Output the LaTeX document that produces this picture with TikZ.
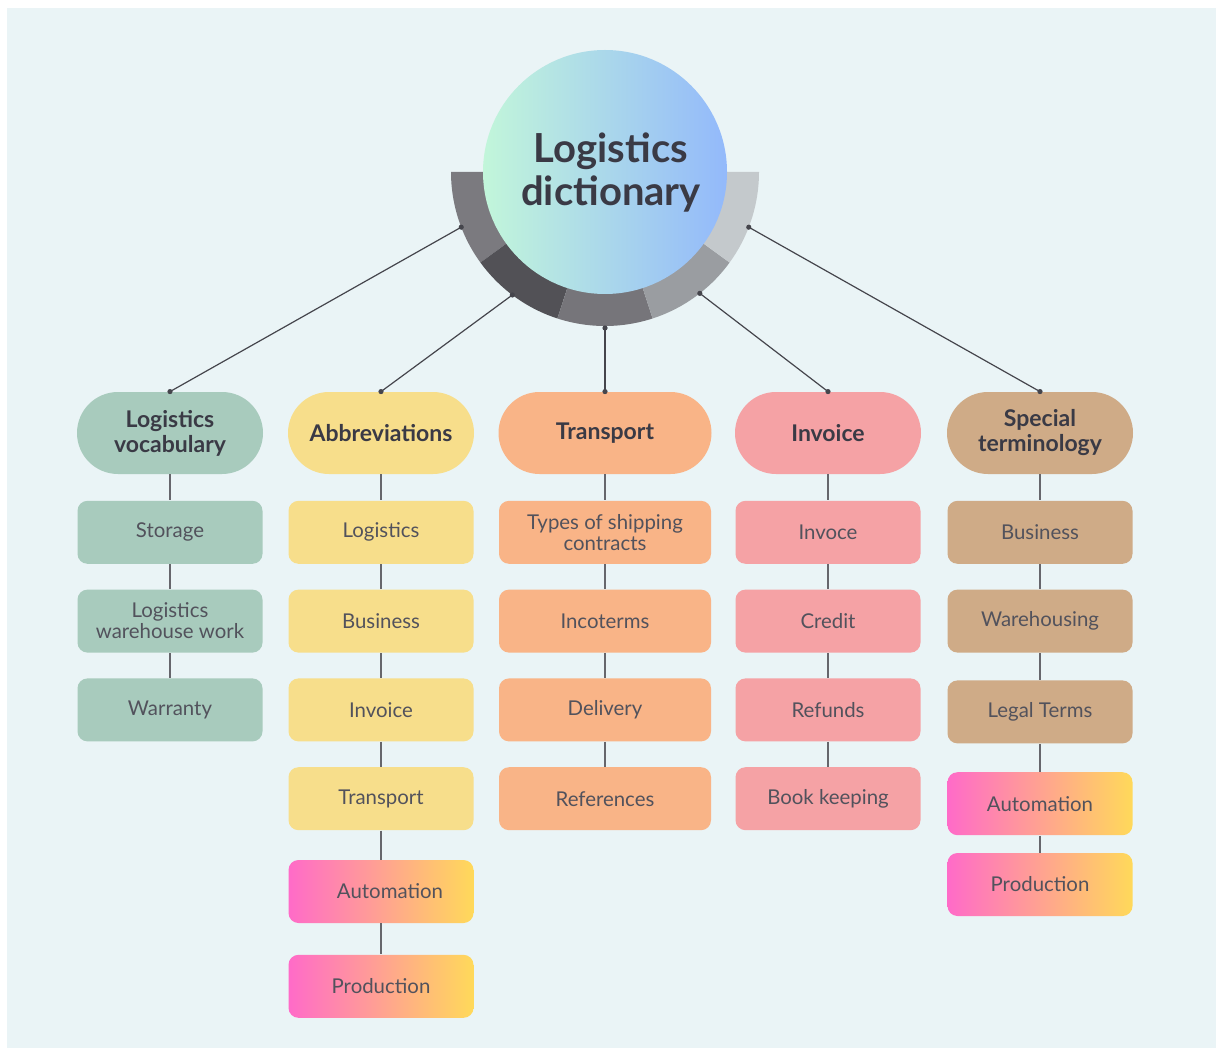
\documentclass[tikz,border=0pt]{standalone}
\usepackage{fontspec}
\setmainfont{Lato}
\usetikzlibrary{positioning,shapes.misc,calc}
\definecolor{bgc}{HTML}{EAF4F6}
\definecolor{ink}{HTML}{3A3A45}
\definecolor{inkl}{HTML}{52525C}
\definecolor{linec}{HTML}{45454C}
\definecolor{stemc}{HTML}{66666C}
\definecolor{hubL}{HTML}{C2F6DA}
\definecolor{hubR}{HTML}{93B9FB}
\definecolor{vocc}{HTML}{A8CBBD}
\definecolor{abbrc}{HTML}{F7DE8B}
\definecolor{transc}{HTML}{F9B487}
\definecolor{invc}{HTML}{F5A2A5}
\definecolor{specc}{HTML}{CFAB87}
\definecolor{gradL}{HTML}{FF6BC8}
\definecolor{gradM}{HTML}{FFA58E}
\definecolor{gradR}{HTML}{FFD95A}
\definecolor{ringa}{HTML}{7B7A7F}
\definecolor{ringb}{HTML}{525156}
\definecolor{ringc}{HTML}{76757A}
\definecolor{ringd}{HTML}{9A9DA1}
\definecolor{ringe}{HTML}{C4C9CC}
\tikzset{
  hubnode/.style={circle,minimum size=122pt,inner sep=0pt,left color=hubL,right color=hubR,
            align=center,text=ink,font=\bfseries\fontsize{20}{21.5}\selectfont},
  cat/.style={rounded rectangle,minimum width=97pt,minimum height=41pt,inner sep=2pt,
            align=center,text=ink,font=\bfseries\fontsize{11.5}{12.5}\selectfont},
  item/.style={rectangle,rounded corners=5pt,minimum width=92.5pt,minimum height=31.5pt,
            inner sep=2pt,align=center,text=inkl,font=\fontsize{10.2}{10.5}\selectfont},
  grad/.style={item,left color=gradL,middle color=gradM,right color=gradR},
  link/.style={draw=linec,line width=0.6pt},
  stem/.style={draw=stemc,line width=0.8pt},
}

\begin{document}
\begin{tikzpicture}[x=0.5pt,y=-0.5pt,node distance=12.5pt]
  \useasboundingbox (0,0) rectangle (1216,1048);
  \fill[white] (0,0) rectangle (1216,1048);
  \fill[bgc] (7,8) rectangle (1216,1048);
  % ring under the hub
  \coordinate (hub) at (605,172);
  \fill[ringa] (hub) -- ++(180:154) arc[start angle=180,end angle=144,radius=154] -- cycle;
  \fill[ringb] (hub) -- ++(144:154) arc[start angle=144,end angle=108,radius=154] -- cycle;
  \fill[ringc] (hub) -- ++(108:154) arc[start angle=108,end angle=72,radius=154] -- cycle;
  \fill[ringd] (hub) -- ++(72:154) arc[start angle=72,end angle=36,radius=154] -- cycle;
  \fill[ringe] (hub) -- ++(36:154) arc[start angle=36,end angle=0,radius=154] -- cycle;
  \node[hubnode] (dict) at (hub) {\hspace*{6pt}Logistics\\\hspace*{6pt}dictionary};
  % categories
  \node[cat,fill=vocc]   (voc)   at (170,433) {Logistics\\vocabulary};
  \node[cat,fill=abbrc]  (abbr)  at (381,433) {Abbreviations};
  \node[cat,fill=transc,minimum width=110.5pt] (trans) at (605,433) {Transport};
  \node[cat,fill=invc]   (inv)   at (828,433) {Invoice};
  \node[cat,fill=specc]  (spec)  at (1040,433) {Special\\terminology};
  % links from the ring
  \coordinate (r1) at ($(hub)+(159:154)$);
  \coordinate (r2) at ($(hub)+(127:154)$);
  \coordinate (r3) at ($(hub)+(90:156)$);
  \coordinate (r4) at ($(hub)+(52:154)$);
  \coordinate (r5) at ($(hub)+(21:154)$);
  \draw[link] (r1) -- (voc.north);
  \draw[link] (r2) -- (abbr.north);
  \draw[link] (r3) -- (trans.north);
  \draw[link] (r4) -- (inv.north);
  \draw[link] (r5) -- (spec.north);
  \foreach \p in {r1,r2,r3,r4,r5,voc.north,abbr.north,trans.north,inv.north,spec.north}
    \fill[linec] (\p) circle[radius=2.6];
  % logistics vocabulary
  \node[item,fill=vocc,below=13pt of voc]  (voc1) {Storage};
  \node[item,fill=vocc,below=of voc1] (voc2) {Logistics\\warehouse work};
  \node[item,fill=vocc,below=of voc2] (voc3) {Warranty};
  % abbreviations
  \node[item,fill=abbrc,below=13pt of abbr]  (abbr1) {Logistics};
  \node[item,fill=abbrc,below=of abbr1] (abbr2) {Business};
  \node[item,fill=abbrc,below=of abbr2] (abbr3) {Invoice};
  \node[item,fill=abbrc,below=of abbr3] (abbr4) {Transport};
  \node[grad,below=14.5pt of abbr4] (abbr5) {\hspace*{9pt}Automation};
  \node[grad,below=15.5pt of abbr5] (abbr6) {Production};
  % transport
  \node[item,fill=transc,minimum width=106pt,below=13pt of trans]  (trans1) {Types of shipping\\contracts};
  \node[item,fill=transc,minimum width=106pt,below=of trans1] (trans2) {Incoterms};
  \node[item,fill=transc,minimum width=106pt,below=of trans2] (trans3) {Delivery};
  \node[item,fill=transc,minimum width=106pt,below=of trans3] (trans4) {References};
  % invoice
  \node[item,fill=invc,below=13pt of inv]  (inv1) {Invoce};
  \node[item,fill=invc,below=of inv1] (inv2) {Credit};
  \node[item,fill=invc,below=of inv2] (inv3) {Refunds};
  \node[item,fill=invc,below=of inv3] (inv4) {Book keeping};
  % special terminology
  \node[item,fill=specc,below=13pt of spec]  (spec1) {Business};
  \node[item,fill=specc,below=of spec1] (spec2) {Warehousing};
  \node[item,fill=specc,below=13.5pt of spec2] (spec3) {Legal Terms};
  \node[grad,below=14pt of spec3] (spec4) {Automation};
  \node[grad,below=8.5pt of spec4]    (spec5) {Production};
  % stems
  \foreach \a/\b in {voc/voc1,voc1/voc2,voc2/voc3,
                     abbr/abbr1,abbr1/abbr2,abbr2/abbr3,abbr3/abbr4,abbr4/abbr5,abbr5/abbr6,
                     trans/trans1,trans1/trans2,trans2/trans3,trans3/trans4,
                     inv/inv1,inv1/inv2,inv2/inv3,inv3/inv4,
                     spec/spec1,spec1/spec2,spec2/spec3,spec3/spec4,spec4/spec5}
    \draw[stem] (\a.south) -- (\b.north);
\end{tikzpicture}
\end{document}
